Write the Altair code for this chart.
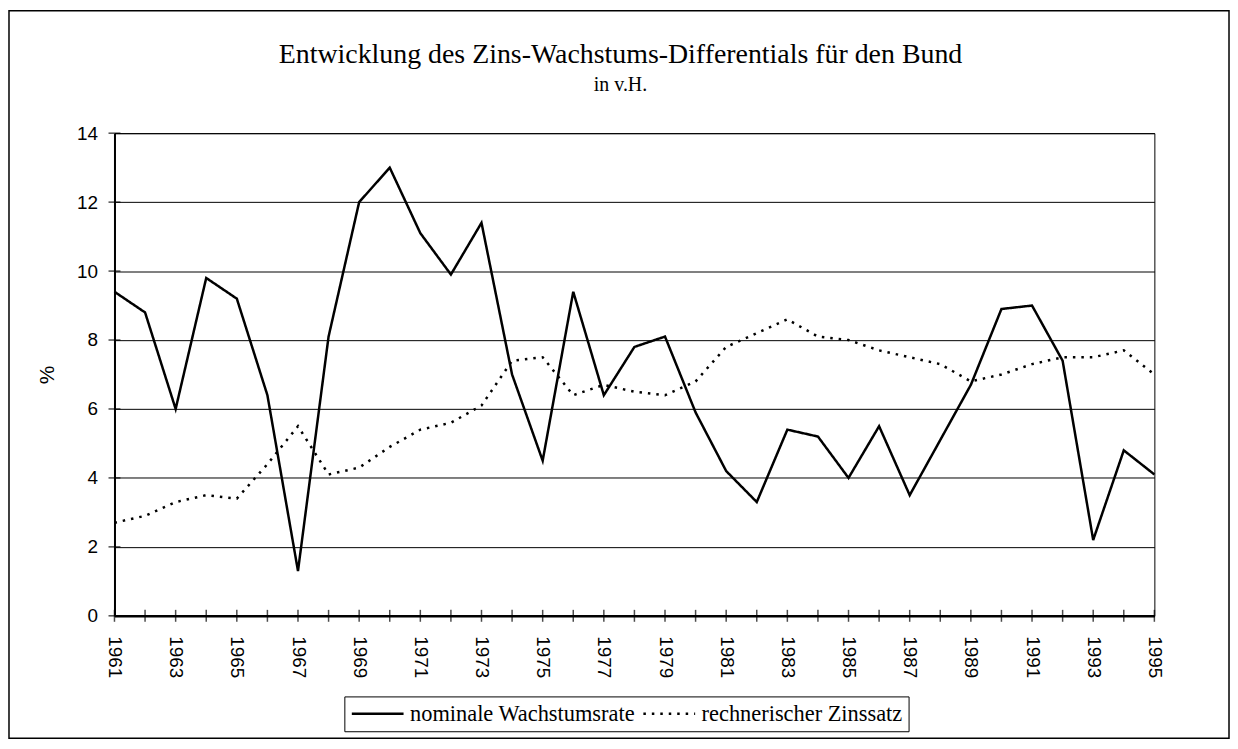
import altair as alt
import pandas as pd

years = list(range(1961, 1996))
wachstum = [9.4, 8.8, 6.0, 9.8, 9.2, 6.4, 1.3, 8.1, 12.0, 13.0, 11.1, 9.9, 11.4, 7.0,
            4.5, 9.4, 6.4, 7.8, 8.1, 5.9, 4.2, 3.3, 5.4, 5.2, 4.0, 5.5, 3.5, 5.1,
            6.7, 8.9, 9.0, 7.4, 2.2, 4.8, 4.1]
zins = [2.7, 2.9, 3.3, 3.5, 3.4, 4.4, 5.5, 4.1, 4.3, 4.9, 5.4, 5.6, 6.1, 7.4,
        7.5, 6.4, 6.7, 6.5, 6.4, 6.8, 7.8, 8.2, 8.6, 8.1, 8.0, 7.7, 7.5, 7.3,
        6.8, 7.0, 7.3, 7.5, 7.5, 7.7, 7.0]
series = ["nominale Wachstumsrate", "rechnerischer Zinssatz"]
y_ticks = [0, 2, 4, 6, 8, 10, 12, 14]

df = pd.DataFrame({
    "Jahr": years + years,
    "Wert": wachstum + zins,
    "Reihe": [series[0]] * len(years) + [series[1]] * len(years),
})

W, H = 1045, 485
SANS = "Liberation Sans"
SERIF = "Liberation Serif"

lines = alt.Chart(df).mark_line(strokeWidth=2.5, color="black").encode(
    x=alt.X("Jahr:Q",
            scale=alt.Scale(domain=[1961, 1995], nice=False, zero=False),
            axis=alt.Axis(values=years,
                          labelExpr="datum.value % 2 == 1 ? toString(datum.value) : ''",
                          labelAngle=90, ticks=False, tickSize=0, labelPadding=20,
                          grid=False, title=None, domainWidth=2.5, domainColor="black",
                          labelFont=SANS, labelFontSize=19, labelColor="black",
                          labelOverlap=False)),
    y=alt.Y("Wert:Q",
            scale=alt.Scale(domain=[0, 14], nice=False),
            axis=alt.Axis(values=y_ticks, ticks=False, tickSize=0, labelPadding=17,
                          grid=True, gridColor="black", gridWidth=1,
                          domainWidth=2, domainColor="black",
                          labelFont=SANS, labelFontSize=19, labelColor="black",
                          title="%", titleFont=SANS, titleFontSize=21,
                          titleFontWeight="normal", titleColor="black",
                          titleX=-67, titleY=H / 2, titleAngle=270,
                          titleAlign="center", titleBaseline="middle")),
    strokeDash=alt.StrokeDash("Reihe:N",
                              scale=alt.Scale(domain=series, range=[[1, 0], [2.5, 6]]),
                              legend=alt.Legend(title=None, orient="none",
                                                legendX=231, legendY=566,
                                                direction="horizontal",
                                                symbolType="M-2.6,0H2.6", symbolSize=400,
                                                symbolOffset=16, symbolStrokeWidth=2.5,
                                                symbolStrokeColor="black",
                                                labelFont=SERIF, labelFontSize=22.5,
                                                labelColor="black", labelOffset=21,
                                                labelLimit=400,
                                                columnPadding=2, padding=6,
                                                strokeColor="black")),
)

xt = alt.Chart(pd.DataFrame({"Jahr": years, "Wert": [0] * len(years)})).mark_tick(
    orient="vertical", size=12, thickness=1.5, color="black"
).encode(x="Jahr:Q", y="Wert:Q")

yt = alt.Chart(pd.DataFrame({"Jahr": [1961] * len(y_ticks), "Wert": y_ticks})).mark_tick(
    orient="horizontal", size=12, thickness=1.5, color="black"
).encode(x="Jahr:Q", y="Wert:Q")

frame = alt.Chart(pd.DataFrame({"a": [0]})).mark_rect(
    filled=False, stroke="black", strokeWidth=1.5
).encode(x=alt.value(-106), x2=alt.value(1120), y=alt.value(-123), y2=alt.value(608))

chart = alt.layer(lines, xt, yt, frame).properties(
    width=W, height=H,
    padding={"left": 107, "top": 124, "right": 76, "bottom": 124},
    autosize=alt.AutoSizeParams(type="none"),
    title=alt.TitleParams(
        text="Entwicklung des Zins-Wachstums-Differentials für den Bund",
        subtitle="in v.H.",
        font=SERIF, fontSize=28, fontWeight="normal", color="black",
        subtitleFont=SERIF, subtitleFontSize=20, subtitleColor="black",
        subtitlePadding=6, anchor="middle", offset=-85, dx=-14,
    ),
).configure_view(stroke="black", strokeWidth=1)

chart.save("out.html", embed_options={"renderer": "svg", "actions": False})
